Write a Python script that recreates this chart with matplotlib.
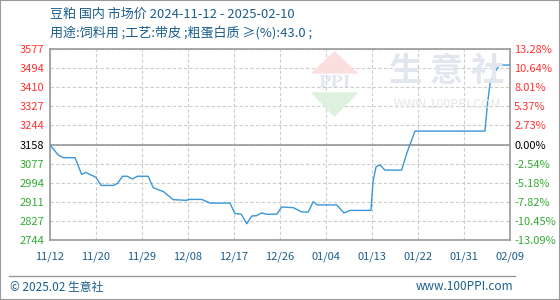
import matplotlib
matplotlib.use("Agg")
import matplotlib.pyplot as plt
from matplotlib.patches import Polygon, Rectangle
from matplotlib.lines import Line2D

plt.rcParams['font.family'] = ['Noto Sans CJK SC', 'DejaVu Sans']

# 数据：距 2024-11-12 的天数与价格（元/吨）
days = [0, 1.6, 2.6, 4.9, 6.2, 7.0, 7.8, 9.0, 10.0, 12.4, 13.2, 14.2, 15.1, 16.2, 17.1,
        19.2, 20.2, 21.2, 22.2, 24.1, 26.7, 27.1, 29.7, 31.3, 35.2, 36.2, 37.4, 38.5,
        39.5, 40.4, 41.4, 42.4, 44.4, 45.3, 47.6, 49.2, 50.5, 51.5, 52.3, 56.1, 57.5,
        58.7, 62.8, 63.2, 63.8, 64.6, 65.5, 68.8, 69.8, 71.4, 85.1, 85.6, 86.1, 87.1,
        87.9, 90]
prices = [3158, 3115, 3103, 3103, 3030, 3039, 3030, 3017, 2982, 2982, 2991, 3022, 3022,
          3010, 3022, 3022, 2972, 2963, 2955, 2920, 2917, 2921, 2921, 2905, 2905, 2859,
          2857, 2815, 2849, 2850, 2862, 2856, 2857, 2888, 2885, 2867, 2865, 2911, 2897,
          2897, 2862, 2873, 2873, 2998, 3064, 3071, 3049, 3049, 3122, 3219, 3219, 3340,
          3427, 3478, 3507, 3507]

base = 3158
y_ticks = [2744, 2827, 2911, 2994, 3077, 3158, 3244, 3327, 3410, 3494, 3577]
pct_labels = ['-13.09%', '-10.45%', '-7.82%', '-5.18%', '-2.54%', '0.00%',
              '2.73%', '5.37%', '8.01%', '10.64%', '13.28%']
x_ticks = [0, 9, 18, 27, 36, 45, 54, 63, 72, 81, 90]
x_labels = ['11/12', '11/20', '11/29', '12/08', '12/17', '12/26',
            '01/04', '01/13', '01/22', '01/31', '02/09']

blue = '#1b5e8c'
red = '#ff3333'
green = '#33aa33'

fig = plt.figure(figsize=(5.6, 3.0), dpi=100)
W, H = 560, 300

def fx(px):
    return px / W

def fy(py):
    return 1 - py / H

ax = fig.add_axes([fx(50), fy(240), fx(510) - fx(50), fy(49) - fy(240)])

# 水印
fig.text(fx(447), fy(72), '生 意 社', fontsize=24, fontweight='bold', color='#e2e6ef',
         ha='center', va='center', zorder=0)
fig.text(fx(447), fy(105), 'WWW.100PPI.COM', fontsize=9, color='#e6e6e6',
         ha='center', va='center', zorder=0)
fig.patches.append(Polygon([[fx(312), fy(73)], [fx(357), fy(73)], [fx(334.5), fy(52)]],
                           closed=True, transform=fig.transFigure, color='#fbdfdf', zorder=0))
fig.patches.append(Polygon([[fx(312), fy(93)], [fx(357), fy(93)], [fx(334.5), fy(116)]],
                           closed=True, transform=fig.transFigure, color='#dff0df', zorder=0))
fig.text(fx(334.5), fy(83), 'PPI', fontsize=12, fontweight='bold', color='#e2e6ef',
         ha='center', va='center', family='DejaVu Serif', zorder=0)
ax.patch.set_alpha(0)

ax.plot(days, prices, color='#3a96d6', lw=1.0, zorder=3)

ax.set_xlim(0, 90)
ax.set_ylim(2744, 3577)
ax.set_xticks(x_ticks)
ax.set_xticklabels(x_labels)
ax.set_yticks(y_ticks)
ax.set_yticklabels([str(v) for v in y_ticks])
ax.grid(True, color='#cccccc', linestyle=(0, (3, 2)), lw=0.8)
ax.axhline(base, color='#999999', lw=1.2, zorder=2)
for s in ax.spines.values():
    s.set_color('#999999')
    s.set_linewidth(1.2)
ax.tick_params(length=0, labelsize=8)
ax.tick_params(axis='x', colors=blue, pad=8)
ax.tick_params(axis='y', pad=22)

def tick_color(v):
    if v > base:
        return red
    if v < base:
        return green
    return 'black'

for lab, v in zip(ax.get_yticklabels(), y_ticks):
    lab.set_color(tick_color(v))
    lab.set_horizontalalignment('left')

ax2 = ax.twinx()
ax2.set_ylim(2744, 3577)
ax2.set_yticks(y_ticks)
ax2.set_yticklabels(pct_labels)
ax2.tick_params(length=0, labelsize=8, pad=3)
for s in ax2.spines.values():
    s.set_visible(False)
for lab, v in zip(ax2.get_yticklabels(), y_ticks):
    lab.set_color(tick_color(v))

# 标题
fig.text(fx(50), fy(14), '豆粕 国内 市场价 2024-11-12 - 2025-02-10', fontsize=9.4,
         color=blue, ha='left', va='center')
fig.text(fx(50), fy(33), '用途:饲料用 ;工艺:带皮 ;粗蛋白质 ≥(%):43.0 ;', fontsize=9.4,
         color=blue, ha='left', va='center')

# 页脚
fig.add_artist(Line2D([fx(9), fx(515)], [fy(275.5), fy(275.5)], color='#999999', lw=1.0))
fig.text(fx(10), fy(287), '© 2025.02 生意社', fontsize=8.5, color=blue, ha='left', va='center')
fig.text(fx(513), fy(287), 'www.100PPI.com', fontsize=8.5, color=blue, ha='right', va='center')
fig.add_artist(Rectangle((0, 0), 1, 1, transform=fig.transFigure, fill=False,
                         edgecolor='#999999', lw=1.5))

fig.savefig('out.png', dpi=100)
